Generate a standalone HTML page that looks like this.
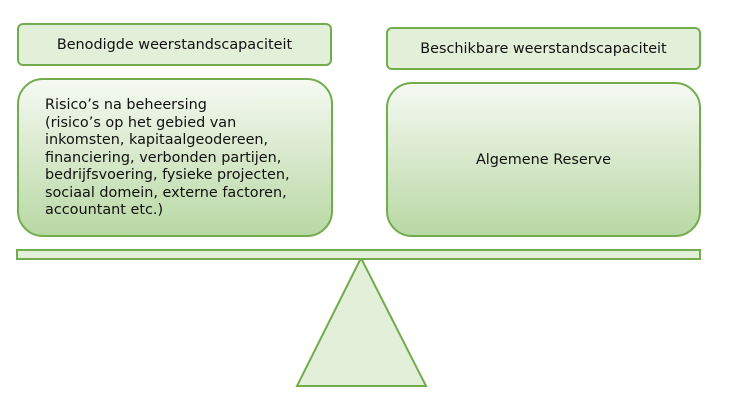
<!DOCTYPE html>
<html><head><style>
body{margin:0;width:734px;height:413px;background:#fff;position:relative;overflow:hidden;font-family:"DejaVu Sans","Liberation Sans",sans-serif;font-size:14.4px;color:#111}
.b{position:absolute;box-sizing:border-box;border:2px solid #72ac4d}
.s{background:#e2efd9;border-radius:6px;display:flex;align-items:center;justify-content:center}
.g{background:linear-gradient(#f5f9f2,#b9d8a4);border-radius:26px}
</style></head><body>
<div class="b s" style="left:17px;top:23px;width:315px;height:43px">Benodigde weerstandscapaciteit</div>
<div class="b s" style="left:386px;top:27px;width:315px;height:43px">Beschikbare weerstandscapaciteit</div>
<div class="b g" style="left:17px;top:78px;width:316px;height:159px"><div style="position:absolute;left:26px;top:17px;line-height:17.5px;white-space:nowrap">Risico’s na beheersing<br>(risico’s op het gebied van<br>inkomsten, kapitaalgeodereen,<br>financiering, verbonden partijen,<br>bedrijfsvoering, fysieke projecten,<br>sociaal domein, externe factoren,<br>accountant etc.)</div></div>
<div class="b g" style="left:386px;top:82px;width:315px;height:155px;display:flex;align-items:center;justify-content:center">Algemene Reserve</div>
<svg style="position:absolute;left:0;top:0" width="734" height="413">
<polygon points="361,258 297,386 426,386" fill="#e2efd9" stroke="#72ac4d" stroke-width="2"/>
<rect x="17" y="250" width="683" height="9" fill="#e2efd9" stroke="#72ac4d" stroke-width="2"/>
</svg>
</body></html>
